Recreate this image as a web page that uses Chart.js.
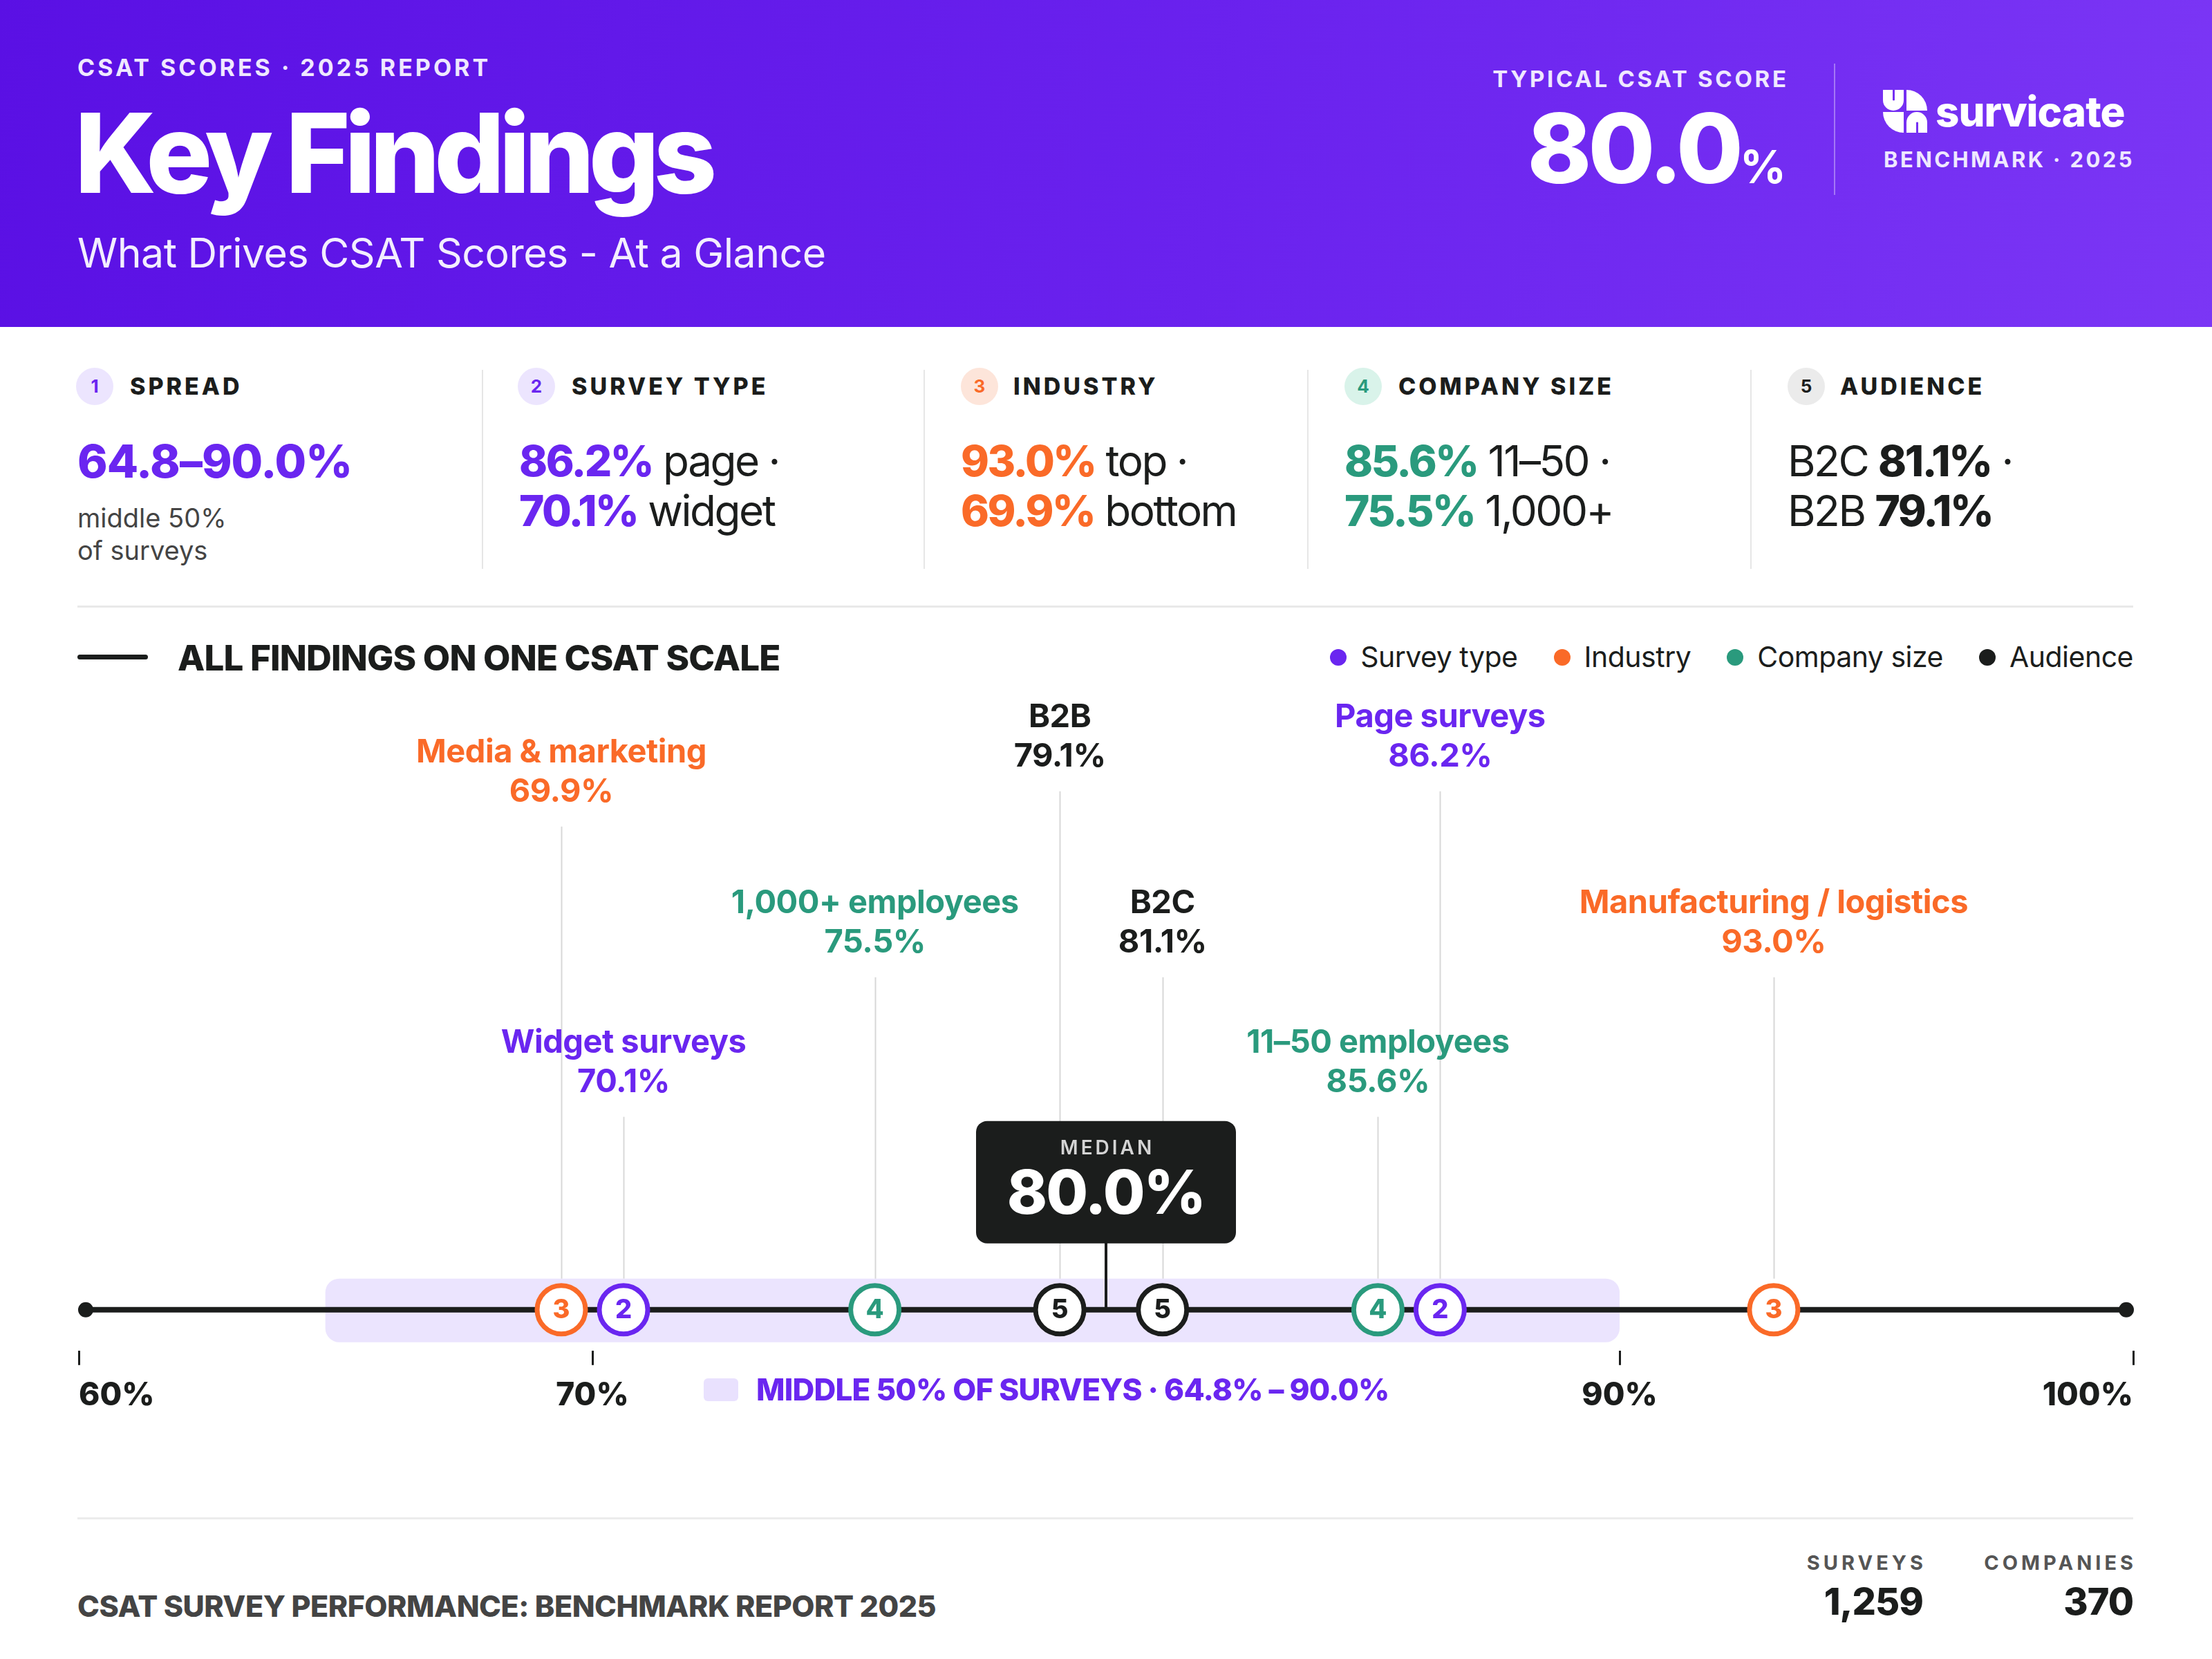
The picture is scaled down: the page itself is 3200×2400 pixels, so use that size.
<!DOCTYPE html>
<html>
<head>
<meta charset="utf-8">
<script src="https://cdn.jsdelivr.net/npm/chart.js@4.4.1/dist/chart.umd.min.js"></script>
<style>
  html, body { margin: 0; padding: 0; background: #fff; }
  body { width: 3200px; height: 2400px; position: relative; overflow: hidden; font-family: Inter, "Noto Sans", sans-serif; color: #1b1d1c; }
  .abs { position: absolute; line-height: 1; white-space: nowrap; }
  #header { position: absolute; left: 0; top: 0; width: 3200px; height: 473px; background: linear-gradient(100deg, #5a10e4 0%, #6a22ee 55%, #7b36f5 100%); }
  .kicker { font-weight: 700; color: #efe8ff; }
  .card-title { font-size: 34px; font-weight: 800; letter-spacing: 4px; color: #1b1d1c; }
  .badge { position: absolute; width: 54px; height: 54px; border-radius: 27px; font-size: 26px; font-weight: 700; text-align: center; line-height: 54px; }
  .val { font-size: 62px; letter-spacing: -2.5px; font-weight: 400; color: #1b1d1c; }
  .val b { font-weight: 800; }
  .vdiv { position: absolute; top: 535px; width: 2px; height: 288px; background: #e6e6e6; }
  .legend-item { display: inline-flex; align-items: center; margin-left: 52px; font-size: 41px; letter-spacing: -0.5px; }
  .legend-item i { display: inline-block; width: 24px; height: 24px; border-radius: 12px; margin-right: 20px; }
</style>
</head>
<body>
<div id="header"></div>
<div class="abs kicker" style="left:112px; top:81px; font-size:34px; letter-spacing:4px;">CSAT SCORES · 2025 REPORT</div>
<div class="abs" style="left:108px; top:141px; font-size:160px; font-weight:800; letter-spacing:-8.5px; color:#fff;">Key Findings</div>
<div class="abs" style="left:112px; top:336px; font-size:59px; font-weight:400; letter-spacing:-0.5px; color:#f3eeff;">What Drives CSAT Scores - At a Glance</div>

<div class="abs kicker" style="right:616px; top:98px; font-size:33px; letter-spacing:3.7px; margin-right:-3.7px;">TYPICAL CSAT SCORE</div>
<div class="abs" style="right:616px; top:144px; font-size:140px; font-weight:800; letter-spacing:-5px; color:#fff;">80.0<span style="font-size:66px; letter-spacing:0; font-weight:700;">%</span></div>
<div style="position:absolute; left:2653px; top:92px; width:2px; height:190px; background:rgba(255,255,255,0.35);"></div>
<svg style="position:absolute; left:2724px; top:128px;" width="64" height="66" viewBox="0 0 64 66">
  <path d="M0 2 H14 V17 A3 3 0 0 0 17 17 V2 H30 V17 A15 15 0 0 1 0 17 Z" fill="#fff"/>
  <path d="M34 32 V2 A30 30 0 0 1 64 32 Z" fill="#fff"/>
  <path d="M30 34 V64 A30 30 0 0 1 0 34 Z" fill="#fff"/>
  <path d="M34 64 H48 V49 A3 3 0 0 1 51 49 V64 H64 V49 A15 15 0 0 0 34 49 Z" fill="#fff"/>
</svg>
<div class="abs" style="left:2800px; top:131px; font-size:60px; font-weight:800; letter-spacing:-1px; color:#fff;">survicate</div>
<div class="abs kicker" style="left:2725px; top:215px; font-size:31px; letter-spacing:3.4px;">BENCHMARK · 2025</div>

<!-- cards -->
<div class="badge" style="left:110px; top:532px; background:#ece5fe; color:#6a26f0;">1</div>
<div class="abs card-title" style="left:188px; top:542px;">SPREAD</div>
<div class="abs val" style="left:112px; top:634px; font-size:66px; letter-spacing:-1px; color:#6a26f0;"><b>64.8–90.0%</b></div>
<div class="abs" style="left:112px; top:730px; font-size:38px; color:#444;">middle 50%</div>
<div class="abs" style="left:112px; top:777px; font-size:38px; color:#444;">of surveys</div>
<div class="vdiv" style="left:697px;"></div>

<div class="badge" style="left:749px; top:532px; background:#ece5fe; color:#6a26f0;">2</div>
<div class="abs card-title" style="left:827px; top:542px;">SURVEY TYPE</div>
<div class="abs val" style="left:751px; top:636px;"><b style="color:#6a26f0;">86.2%</b> page ·</div>
<div class="abs val" style="left:751px; top:708px;"><b style="color:#6a26f0;">70.1%</b> widget</div>
<div class="vdiv" style="left:1336px;"></div>

<div class="badge" style="left:1390px; top:532px; background:#fde5da; color:#fa6a28;">3</div>
<div class="abs card-title" style="left:1466px; top:542px;">INDUSTRY</div>
<div class="abs val" style="left:1390px; top:636px;"><b style="color:#fa6a28;">93.0%</b> top ·</div>
<div class="abs val" style="left:1390px; top:708px;"><b style="color:#fa6a28;">69.9%</b> bottom</div>
<div class="vdiv" style="left:1891px;"></div>

<div class="badge" style="left:1945px; top:532px; background:#d9f3ea; color:#2a9a7d;">4</div>
<div class="abs card-title" style="left:2023px; top:542px;">COMPANY SIZE</div>
<div class="abs val" style="left:1945px; top:636px;"><b style="color:#2a9a7d;">85.6%</b> 11–50 ·</div>
<div class="abs val" style="left:1945px; top:708px;"><b style="color:#2a9a7d;">75.5%</b> 1,000+</div>
<div class="vdiv" style="left:2532px;"></div>

<div class="badge" style="left:2586px; top:532px; background:#ebebeb; color:#1b1d1c;">5</div>
<div class="abs card-title" style="left:2662px; top:542px;">AUDIENCE</div>
<div class="abs val" style="left:2586px; top:636px;">B2C <b>81.1%</b> ·</div>
<div class="abs val" style="left:2586px; top:708px;">B2B <b>79.1%</b></div>

<div style="position:absolute; left:112px; top:876px; width:2974px; height:3px; background:#e9e9e9;"></div>

<!-- chart header -->
<div style="position:absolute; left:112px; top:947px; width:102px; height:7px; border-radius:4px; background:#1b1d1c;"></div>
<div class="abs" style="left:257px; top:926px; font-size:51px; font-weight:800; letter-spacing:-0.8px;">ALL FINDINGS ON ONE CSAT SCALE</div>
<div class="abs" id="legend" style="right:114px; top:930px;"></div>

<canvas id="chart" style="position:absolute; left:0; top:1006px;" width="3200" height="1110"></canvas>

<div style="position:absolute; left:1018px; top:1994px; width:50px; height:33px; border-radius:6px; background:#e9e1fe;"></div>
<div class="abs" style="left:1094px; top:1988px; font-size:44px; font-weight:800; letter-spacing:-0.8px; color:#6a26f0;">MIDDLE 50% OF SURVEYS · 64.8% – 90.0%</div>

<!-- footer -->
<div style="position:absolute; left:112px; top:2195px; width:2974px; height:3px; background:#ececec;"></div>
<div class="abs" style="left:112px; top:2302px; font-size:43px; font-weight:800; letter-spacing:-0.5px; color:#444;">CSAT SURVEY PERFORMANCE: BENCHMARK REPORT 2025</div>
<div class="abs" style="right:418px; top:2246px; font-size:29px; font-weight:700; letter-spacing:5px; color:#555; margin-right:-5px;">SURVEYS</div>
<div class="abs" style="right:418px; top:2290px; font-size:54px; font-weight:800; letter-spacing:-1px;">1,259</div>
<div class="abs" style="right:114px; top:2246px; font-size:29px; font-weight:700; letter-spacing:5px; color:#555; margin-right:-5px;">COMPANIES</div>
<div class="abs" style="right:114px; top:2290px; font-size:54px; font-weight:800; letter-spacing:-1px;">370</div>

<script>
// data
const groupNames = ['Survey type', 'Industry', 'Company size', 'Audience'];
const groupNumbers = [2, 3, 4, 5];
const groupColors = ['#6a26f0', '#fa6a28', '#2a9a7d', '#1b1d1c'];

const findingNames = ['Media & marketing', 'Widget surveys', '1,000+ employees', 'B2B', 'B2C', '11–50 employees', 'Page surveys', 'Manufacturing / logistics'];
const findingValues = [69.9, 70.1, 75.5, 79.1, 81.1, 85.6, 86.2, 93.0];
const findingGroups = [3, 2, 4, 5, 5, 4, 2, 3];

const middleRange = [64.8, 90.0];
const medianScore = 80.0;
const axisRange = [60, 100];
const tickValues = [60, 70, 90, 100];
const tickLabels = ['60%', '70%', '90%', '100%'];

// layout: how far above the axis each label's name line sits
const labelRise = [806, 386, 588, 857, 588, 386, 857, 588];
const minMarkerGap = 90;

// legend (html)
document.getElementById('legend').innerHTML = groupNames.map((n, i) =>
  '<span class="legend-item"><i style="background:' + groupColors[i] + '"></i>' + n + '</span>').join('');

const datasets = groupNumbers.map((g, gi) => ({
  label: groupNames[gi],
  data: findingValues.map((v, i) => ({ x: v, y: 0, i: i })).filter(p => findingGroups[p.i] === g),
  pointRadius: 35,
  pointHoverRadius: 35,
  pointBorderWidth: 7,
  pointHoverBorderWidth: 7,
  pointBackgroundColor: '#ffffff',
  pointBorderColor: groupColors[gi],
  showLine: false
}));

function colorOf(g) { return groupColors[groupNumbers.indexOf(g)]; }

function roundRect(ctx, x, y, w, h, r) {
  ctx.beginPath();
  ctx.moveTo(x + r, y);
  ctx.arcTo(x + w, y, x + w, y + h, r);
  ctx.arcTo(x + w, y + h, x, y + h, r);
  ctx.arcTo(x, y + h, x, y, r);
  ctx.arcTo(x, y, x + w, y, r);
  ctx.closePath();
}

const scalePlugin = {
  id: 'scaleDecor',
  // push markers that sit too close apart, like the reference does
  afterDatasetsUpdate(chart) {
    const items = [];
    chart.data.datasets.forEach((ds, di) => {
      chart.getDatasetMeta(di).data.forEach((el, j) => items.push({ el: el, i: ds.data[j].i, x: el.x }));
    });
    items.sort((a, b) => a.x - b.x);
    for (let pass = 0; pass < 10; pass++) {
      for (let k = 1; k < items.length; k++) {
        const d = items[k].x - items[k - 1].x;
        if (d < minMarkerGap) {
          const push = (minMarkerGap - d) / 2;
          items[k - 1].x -= push;
          items[k].x += push;
        }
      }
    }
    chart.$markerX = [];
    items.forEach(it => { it.el.x = it.x; chart.$markerX[it.i] = it.x; });
  },
  beforeDatasetsDraw(chart) {
    const ctx = chart.ctx, xs = chart.scales.x, ys = chart.scales.y;
    const axisY = ys.getPixelForValue(0);
    ctx.save();
    // middle 50% band
    const bx0 = xs.getPixelForValue(middleRange[0]), bx1 = xs.getPixelForValue(middleRange[1]);
    roundRect(ctx, bx0, axisY - 45, bx1 - bx0, 92, 20);
    ctx.fillStyle = '#ebe4fe';
    ctx.fill();
    // leader lines
    ctx.strokeStyle = '#d8d8d8';
    ctx.lineWidth = 2;
    findingValues.forEach((v, i) => {
      const x = Math.round(chart.$markerX[i]) + 0.5;
      const top = axisY - labelRise[i] + 57 + 50;
      ctx.beginPath();
      ctx.moveTo(x, top);
      ctx.lineTo(x, axisY - 45);
      ctx.stroke();
    });
    // axis line
    const x0 = xs.getPixelForValue(axisRange[0]) + 10, x1 = xs.getPixelForValue(axisRange[1]) - 10;
    ctx.strokeStyle = '#1b1d1c';
    ctx.lineWidth = 8;
    ctx.beginPath();
    ctx.moveTo(x0, axisY);
    ctx.lineTo(x1, axisY);
    ctx.stroke();
    ctx.fillStyle = '#1b1d1c';
    [x0, x1].forEach(x => { ctx.beginPath(); ctx.arc(x, axisY, 11, 0, Math.PI * 2); ctx.fill(); });
    // median connector
    const mx = xs.getPixelForValue(medianScore);
    ctx.lineWidth = 4;
    ctx.beginPath();
    ctx.moveTo(mx, axisY - 100);
    ctx.lineTo(mx, axisY);
    ctx.stroke();
    ctx.restore();
  },
  afterDatasetsDraw(chart) {
    const ctx = chart.ctx, xs = chart.scales.x, ys = chart.scales.y;
    const axisY = ys.getPixelForValue(0);
    ctx.save();
    ctx.textAlign = 'center';
    ctx.textBaseline = 'middle';
    // numbers inside markers
    chart.data.datasets.forEach((ds, di) => {
      chart.getDatasetMeta(di).data.forEach(pt => {
        ctx.fillStyle = groupColors[di];
        ctx.font = '800 38px Inter';
        ctx.fillText(String(groupNumbers[di]), pt.x, pt.y + 1);
      });
    });
    // finding labels
    ctx.letterSpacing = '-0.5px';
    findingValues.forEach((v, i) => {
      const x = chart.$markerX[i];
      const y = axisY - labelRise[i];
      ctx.fillStyle = colorOf(findingGroups[i]);
      ctx.font = '700 47px Inter';
      ctx.fillText(findingNames[i], x, y);
      ctx.fillText(v.toFixed(1) + '%', x, y + 57);
    });
    // median box
    const mx = xs.getPixelForValue(medianScore);
    roundRect(ctx, mx - 188, axisY - 273, 376, 177, 16);
    ctx.fillStyle = '#1b1d1c';
    ctx.fill();
    ctx.letterSpacing = '4px';
    ctx.fillStyle = '#d4d4d4';
    ctx.font = '600 28px Inter';
    ctx.fillText('MEDIAN', mx + 2, axisY - 233);
    ctx.letterSpacing = '-2px';
    ctx.fillStyle = '#ffffff';
    ctx.font = '800 88px Inter';
    ctx.fillText(medianScore.toFixed(1) + '%', mx, axisY - 165);
    ctx.restore();
  }
};

new Chart(document.getElementById('chart'), {
  type: 'scatter',
  data: { datasets: datasets },
  options: {
    responsive: false,
    devicePixelRatio: 1,
    animation: false,
    events: [],
    layout: { padding: { left: 114, right: 114, top: 0, bottom: 52 } },
    plugins: { legend: { display: false }, tooltip: { enabled: false } },
    scales: {
      x: {
        type: 'linear',
        min: axisRange[0],
        max: axisRange[1],
        afterBuildTicks: s => { s.ticks = tickValues.map(v => ({ value: v })); },
        grid: { drawOnChartArea: false, drawTicks: true, tickLength: 21, color: '#1b1d1c', lineWidth: 3 },
        border: { display: false },
        ticks: {
          align: 'inner',
          maxRotation: 0,
          padding: 17,
          color: '#1b1d1c',
          font: { family: 'Inter', size: 46, weight: '800' },
          callback: (v) => tickLabels[tickValues.indexOf(v)]
        }
      },
      y: { type: 'linear', display: false, min: -63, max: 902 }
    }
  },
  plugins: [scalePlugin]
});
</script>
</body>
</html>
